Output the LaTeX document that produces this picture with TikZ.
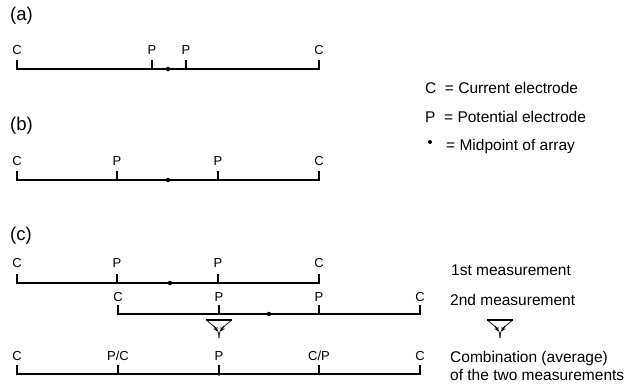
\documentclass[tikz,border=0pt]{standalone}
\usepackage{fontspec}
\setmainfont{Liberation Sans}
\usetikzlibrary{arrows.meta}
\begin{document}
\begin{tikzpicture}[x=1pt,y=-1pt,
  wire/.style={line width=1.9pt, line join=miter},
  elab/.style={font=\fontsize{13}{15}\selectfont, anchor=base, inner sep=0pt},
  plab/.style={font=\fontsize{18.5}{22}\selectfont, anchor=base west, inner sep=0pt},
  rtext/.style={font=\fontsize{15.5}{18}\selectfont, anchor=base west, inner sep=0pt},
  mid/.style={circle, fill=black, inner sep=0pt, minimum size=4.5pt},
  merge/.pic={
    \draw[line width=1.1pt] (-13,0) -- (13,0);
    \draw[line width=0.7pt, -{Straight Barb[length=3pt,width=4pt]}] (-12,0.5) .. controls (-9,4) and (-5,5) .. (-2,11);
    \draw[line width=0.7pt, -{Straight Barb[length=3pt,width=4pt]}] (12,0.5) .. controls (9,4) and (5,5) .. (2,11);
    \draw[line width=0.7pt] (-5,6) .. controls (-2,9) and (0,11) .. (0,18);
    \draw[line width=0.7pt] (5,6) .. controls (2,9) and (0,11) .. (0,18);
  }]
\useasboundingbox (0,0) rectangle (630,389);

% ---------- (a)
\node[plab] (la) at (10,20) {(a)};
\draw[wire] (17,60) |- (319,69) -- (319,60);
\foreach \x in {152,186} \draw[wire] (\x,60) -- (\x,69);
\node[mid] (ma) at (168,69) {};
\node[elab] (a1) at (17,54.5) {C};
\node[elab] (a2) at (152,54.5) {P};
\node[elab] (a3) at (186,54.5) {P};
\node[elab] (a4) at (319,54.5) {C};

% ---------- (b)
\node[plab] (lb) at (10,130) {(b)};
\draw[wire] (17,171) |- (319,180) -- (319,171);
\foreach \x in {117,218} \draw[wire] (\x,171) -- (\x,180);
\node[mid] (mb) at (168,180) {};
\node[elab] (b1) at (17,165.5) {C};
\node[elab] (b2) at (117,165.5) {P};
\node[elab] (b3) at (218,165.5) {P};
\node[elab] (b4) at (319,165.5) {C};

% ---------- (c)
\node[plab] (lc) at (10,240) {(c)};
% 1st measurement
\draw[wire] (17,274) |- (319,283) -- (319,274);
\foreach \x in {117,218} \draw[wire] (\x,274) -- (\x,283);
\node[mid] (mc1) at (170,283) {};
\node[elab] (c1) at (17,267.5) {C};
\node[elab] (c2) at (117,267.5) {P};
\node[elab] (c3) at (218,267.5) {P};
\node[elab] (c4) at (319,267.5) {C};
% 2nd measurement
\draw[wire] (118,305) |- (420,314) -- (420,305);
\foreach \x in {219,319} \draw[wire] (\x,305) -- (\x,314);
\node[mid] (mc2) at (269,314) {};
\node[elab] (d1) at (118,301.5) {C};
\node[elab] (d2) at (219,301.5) {P};
\node[elab] (d3) at (319,301.5) {P};
\node[elab] (d4) at (420,301.5) {C};
% merge symbols
\pic (g1) at (219,320) {merge};
\pic (g2) at (500,320) {merge};
% combination
\draw[wire] (17,365) |- (420,374) -- (420,365);
\foreach \x in {118,219,319} \draw[wire] (\x,365) -- (\x,374);
\node[mid, minimum size=3.5pt] (me) at (219,374) {};
\node[elab] (e1) at (17,360.5) {C};
\node[elab] (e2) at (118,360.5) {P/C};
\node[elab] (e3) at (219,360.5) {P};
\node[elab] (e4) at (319,360.5) {C/P};
\node[elab] (e5) at (420,360.5) {C};

% ---------- legend
\node[rtext] (k1) at (425,93.5) {C\ \ = Current electrode};
\node[rtext] (k2) at (425,122.5) {P\ \ = Potential electrode};
\node[mid, minimum size=4pt] (k3d) at (430,142) {};
\node[rtext] (k3) at (446,150.5) {= Midpoint of array};

% ---------- right texts
\node[rtext] (t1) at (451,275.5) {1st measurement};
\node[rtext] (t2) at (450,305.5) {2nd measurement};
\node[rtext] (t3) at (450,362.5) {Combination (average)};
\node[rtext] (t4) at (450,380.5) {of the two measurements};
\end{tikzpicture}
\end{document}
